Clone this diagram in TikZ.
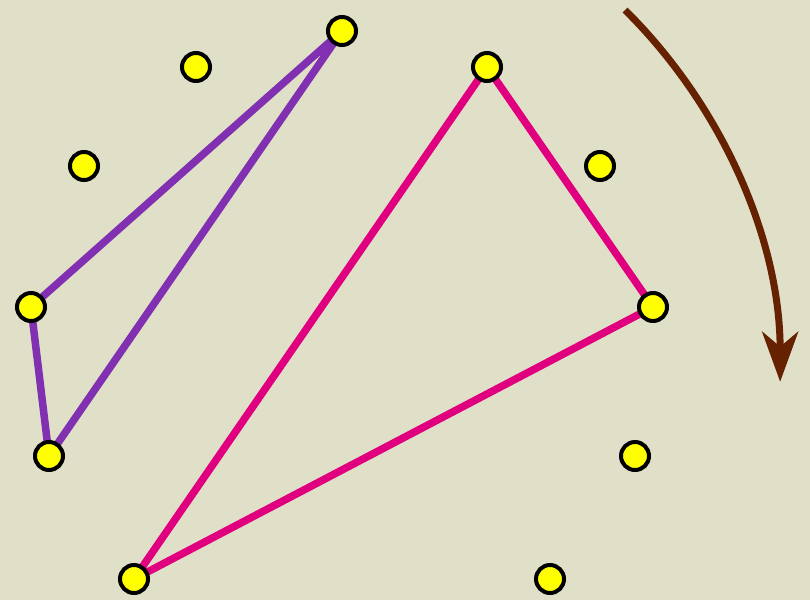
\documentclass[tikz,border=0pt]{standalone}
\usepackage{tikz}
\usetikzlibrary{arrows.meta}
\definecolor{paper}{HTML}{E0E0C8}
\definecolor{dotfill}{HTML}{FFFF00}
\definecolor{violet}{HTML}{8030B0}
\definecolor{rosa}{HTML}{E0007F}
\definecolor{bark}{HTML}{662200}
\pgfdeclarelayer{edges}
\pgfsetlayers{edges,main}

\begin{document}
\begin{tikzpicture}[
  x=1pt, y=-1pt,
  dot/.style ={circle, draw=black, line width=4pt, fill=dotfill,
               minimum size=28pt, inner sep=0pt, outer sep=0pt},
  hullA/.style={draw=violet, line width=7.5pt, line join=round},
  hullB/.style={draw=rosa, line width=7.5pt, line join=round},
  turn/.style ={-{Stealth[length=50pt, width=36pt, inset=15pt]}, draw=bark, line width=7pt},
]
  % --- fondo ---
  \begin{pgfonlayer}{edges}
    \fill[paper] (0,0) rectangle (810,600);
  \end{pgfonlayer}
  \useasboundingbox (0,0) rectangle (810,600);

  % --- puntos ---
  \node[dot] (a) at (342,31)  {};
  \node[dot] (b) at (196,67)  {};
  \node[dot] (c) at (487,67)  {};
  \node[dot] (d) at (84,166)  {};
  \node[dot] (e) at (600,166) {};
  \node[dot] (f) at (31,307)  {};
  \node[dot] (g) at (653,307) {};
  \node[dot] (h) at (49,456)  {};
  \node[dot] (i) at (635,456) {};
  \node[dot] (j) at (134,579) {};
  \node[dot] (k) at (550,579) {};

  % --- triangulos ---
  \begin{pgfonlayer}{edges}
    \draw[hullA] (a.center) -- (f.center) -- (h.center) -- cycle;
    \draw[hullB] (c.center) -- (g.center) -- (j.center) -- cycle;
  \end{pgfonlayer}

  % --- giro ---
  \coordinate (from) at (625,10);
  \draw[turn] (from) arc[start angle=-45.3, end angle=0, radius=523];
\end{tikzpicture}
\end{document}
